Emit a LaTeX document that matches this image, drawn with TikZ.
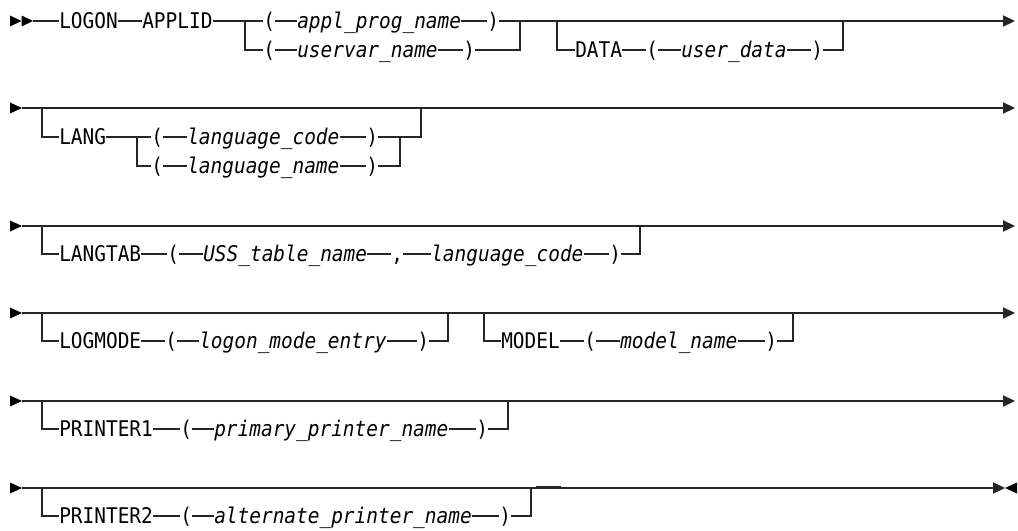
\documentclass[tikz,border=0pt]{standalone}
\usepackage{fontspec}
\setmonofont[FakeStretch=0.9]{DejaVu Sans Mono}
\usepackage{tikz}
\usetikzlibrary{arrows.meta}

\tikzset{
kw/.style={anchor=west, inner sep=0pt, text height=11.5pt, text depth=0pt, font=\fontsize{16.2}{18}\selectfont\ttfamily},
var/.style={kw, font=\fontsize{16.2}{18}\selectfont\ttfamily\itshape},
rail/.style={line width=1.1pt, black!85},
tip/.style={rail, -{Triangle[length=9pt,width=8.4pt]}}
}

\begin{document}
\begin{tikzpicture}[x=0.75pt, y=-0.75pt]
\useasboundingbox (0,0) rectangle (1018,531);

\fill (10,15.5) -- (21.5,21) -- (10,26.5) -- cycle;
\fill (21.5,15.5) -- (33,21) -- (21.5,26.5) -- cycle;
\coordinate (r1s) at (33,21);
\node[kw] (logon) at (59,21) {LOGON};
\node[kw] (applid) at (142,21) {APPLID};
\coordinate (c1a) at (245,21);
\node[kw] (lpa) at (263,21) {(};
\node[var] (applprog) at (297,21) {appl\_prog\_name};
\node[kw] (rpa) at (487,21) {)};
\coordinate (c1b) at (520,21);
\node[kw] (lpb) at (263,50) {(};
\node[var] (uservar) at (297,50) {uservar\_name};
\node[kw] (rpb) at (463,50) {)};
\coordinate (d1a) at (557,21);
\node[kw] (data) at (575,50) {DATA};
\node[kw] (lpc) at (646,50) {(};
\node[var] (userdata) at (681,50) {user\_data};
\node[kw] (rpc) at (811,50) {)};
\coordinate (d1b) at (843,21);
\coordinate (r1e) at (1015,21);
\draw[rail] (r1s) -- (logon) -- (applid) -- (c1a) -- (lpa) -- (applprog) -- (rpa) -- (c1b);
\draw[rail] (c1a) |- (lpb);
\draw[rail] (lpb) -- (uservar) -- (rpb) -| (c1b);
\draw[tip] (c1b) -- (r1e);
\draw[rail] (d1a) |- (data);
\draw[rail] (data) -- (lpc) -- (userdata) -- (rpc) -| (d1b);

\fill (10,102.5) -- (22,108) -- (10,113.5) -- cycle;
\coordinate (r2s) at (22,108);
\coordinate (g2a) at (42,108);
\node[kw] (lang) at (59,137) {LANG};
\coordinate (c2a) at (137,137);
\node[kw] (lpd) at (151,137) {(};
\node[var] (langcode) at (187,137) {language\_code};
\node[kw] (rpd) at (366,137) {)};
\coordinate (c2b) at (400,137);
\node[kw] (lpe) at (151,166) {(};
\node[var] (langname) at (187,166) {language\_name};
\node[kw] (rpe) at (366,166) {)};
\coordinate (g2b) at (421,108);
\coordinate (r2e) at (1015,108);
\draw[tip] (r2s) -- (r2e);
\draw[rail] (g2a) |- (lang);
\draw[rail] (lang) -- (c2a) -- (lpd) -- (langcode) -- (rpd) -| (g2b);
\draw[rail] (c2a) |- (lpe);
\draw[rail] (lpe) -- (langname) -- (rpe) -| (c2b);

\fill (10,220.5) -- (22,226) -- (10,231.5) -- cycle;
\coordinate (r3s) at (22,226);
\coordinate (g3a) at (42,226);
\node[kw] (langtab) at (59,254) {LANGTAB};
\node[kw] (lpf) at (167,254) {(};
\node[var] (usstab) at (203,254) {USS\_table\_name};
\node[kw] (comma) at (391,254) {,};
\node[var] (langcodeb) at (431,254) {language\_code};
\node[kw] (rpf) at (609,254) {)};
\coordinate (g3b) at (640,226);
\coordinate (r3e) at (1015,226);
\draw[tip] (r3s) -- (r3e);
\draw[rail] (g3a) |- (langtab);
\draw[rail] (langtab) -- (lpf) -- (usstab) -- (comma) -- (langcodeb) -- (rpf) -| (g3b);

\fill (10,307.5) -- (22,313) -- (10,318.5) -- cycle;
\coordinate (r4s) at (22,313);
\coordinate (g4a) at (42,313);
\node[kw] (logmode) at (59,341) {LOGMODE};
\node[kw] (lpg) at (165,341) {(};
\node[var] (logonmode) at (199,341) {logon\_mode\_entry};
\node[kw] (rpg) at (417,341) {)};
\coordinate (g4b) at (448,313);
\coordinate (g4c) at (484,313);
\node[kw] (model) at (501,341) {MODEL};
\node[kw] (lph) at (584,341) {(};
\node[var] (modelname) at (620,341) {model\_name};
\node[kw] (rph) at (765,341) {)};
\coordinate (g4d) at (793,313);
\coordinate (r4e) at (1015,313);
\draw[tip] (r4s) -- (r4e);
\draw[rail] (g4a) |- (logmode);
\draw[rail] (logmode) -- (lpg) -- (logonmode) -- (rpg) -| (g4b);
\draw[rail] (g4c) |- (model);
\draw[rail] (model) -- (lph) -- (modelname) -- (rph) -| (g4d);

\fill (10,395.5) -- (22,401) -- (10,406.5) -- cycle;
\coordinate (r5s) at (22,401);
\coordinate (g5a) at (42,401);
\node[kw] (printa) at (59,429) {PRINTER1};
\node[kw] (lpi) at (180,429) {(};
\node[var] (primary) at (214,429) {primary\_printer\_name};
\node[kw] (rpi) at (476,429) {)};
\coordinate (g5b) at (508,401);
\coordinate (r5e) at (1015,401);
\draw[tip] (r5s) -- (r5e);
\draw[rail] (g5a) |- (printa);
\draw[rail] (printa) -- (lpi) -- (primary) -- (rpi) -| (g5b);

\fill (10,482.5) -- (22,488) -- (10,493.5) -- cycle;
\coordinate (r6s) at (22,488);
\coordinate (g6a) at (42,488);
\node[kw] (printb) at (59,516) {PRINTER2};
\node[kw] (lpj) at (180,516) {(};
\node[var] (alternate) at (214,516) {alternate\_printer\_name};
\node[kw] (rpj) at (499,516) {)};
\coordinate (g6b) at (531,488);
\coordinate (stuba) at (536,487.3);
\coordinate (stubb) at (561,487.3);
\coordinate (r6e) at (1005,488);
\draw[tip] (r6s) -- (r6e);
\fill (1017,482.5) -- (1005,488) -- (1017,493.5) -- cycle;
\draw[rail] (g6a) |- (printb);
\draw[rail] (printb) -- (lpj) -- (alternate) -- (rpj) -| (g6b);
\draw[rail, line width=2pt] (stuba) -- (stubb);
\end{tikzpicture}
\end{document}
